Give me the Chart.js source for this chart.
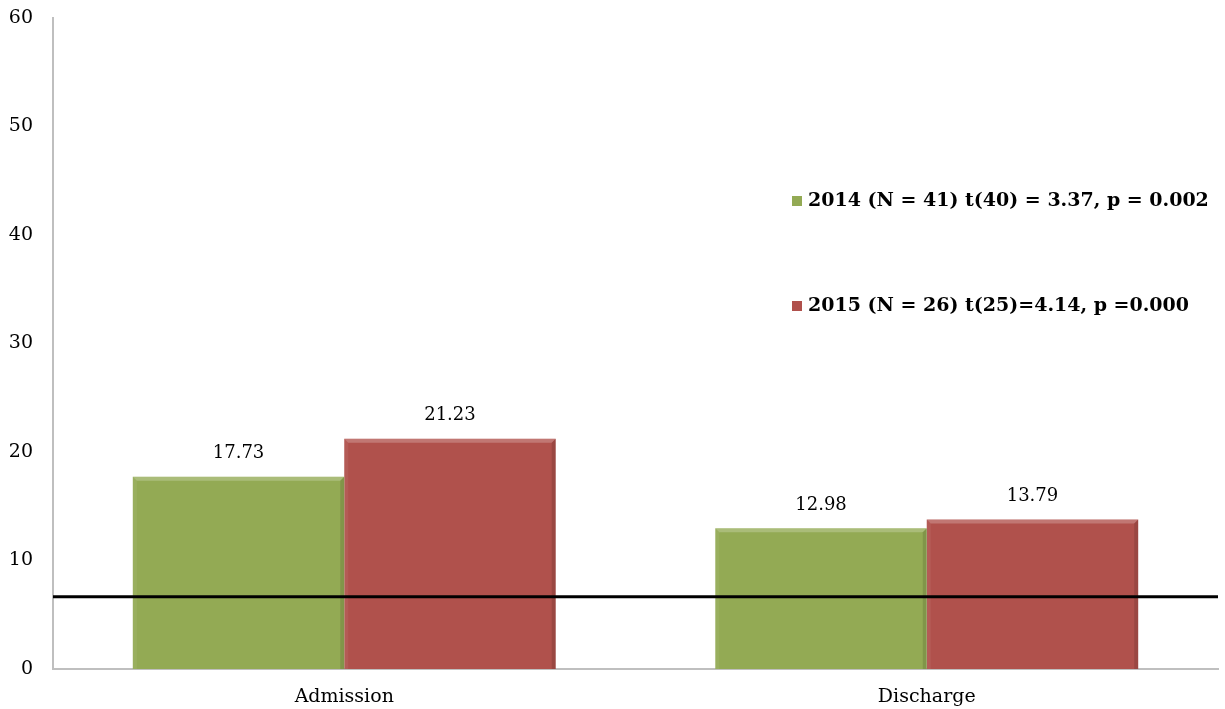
<!DOCTYPE html>
<html>
<head>
<meta charset="utf-8">
<script src="https://cdn.jsdelivr.net/npm/chart.js@4"></script>
<style>
  html, body { margin: 0; padding: 0; background: #fff; }
  #wrap { width: 1225px; height: 709px; }
</style>
</head>
<body>
<div id="wrap"><canvas id="scoreChart"></canvas></div>
<script>
const categories = ['Admission', 'Discharge'];
const seriesLabels = [
    '2014 (N = 41) t(40) = 3.37, p = 0.002',
    '2015 (N = 26) t(25)=4.14, p =0.000'
];
const values2014 = [17.73, 12.98];
const values2015 = [21.23, 13.79];
const cutoff = 6.65;
const yTicks = [0, 10, 20, 30, 40, 50, 60];

const FONT = 'DejaVu Serif';

// bevelled edges on each bar
const bevelPlugin = {
    id: 'bevel',
    afterDatasetsDraw(chart) {
        const ctx = chart.ctx;
        const b = 4;
        chart.data.datasets.forEach((ds, i) => {
            chart.getDatasetMeta(i).data.forEach(bar => {
                const l = bar.x - bar.width / 2, r = bar.x + bar.width / 2;
                const t = bar.y, bot = bar.base;
                ctx.save();
                ctx.fillStyle = 'rgba(255,255,255,0.22)';
                ctx.beginPath();
                ctx.moveTo(l, t); ctx.lineTo(r, t); ctx.lineTo(r - b, t + b); ctx.lineTo(l + b, t + b);
                ctx.fill();
                ctx.fillStyle = 'rgba(255,255,255,0.06)';
                ctx.beginPath();
                ctx.moveTo(l, t); ctx.lineTo(l + b, t + b); ctx.lineTo(l + b, bot); ctx.lineTo(l, bot);
                ctx.fill();
                ctx.fillStyle = 'rgba(0,0,0,0.12)';
                ctx.beginPath();
                ctx.moveTo(r, t); ctx.lineTo(r - b, t + b); ctx.lineTo(r - b, bot); ctx.lineTo(r, bot);
                ctx.fill();
                ctx.restore();
            });
        });
    }
};

// value labels, cutoff line and the legend inside the plot
const overlayPlugin = {
    id: 'overlay',
    afterDraw(chart) {
        const ctx = chart.ctx;
        const area = chart.chartArea;
        ctx.save();
        ctx.fillStyle = '#000';
        ctx.font = '18px "' + FONT + '"';
        ctx.textAlign = 'center';
        ctx.textBaseline = 'middle';
        chart.data.datasets.forEach((ds, i) => {
            chart.getDatasetMeta(i).data.forEach((bar, j) => {
                ctx.fillText(ds.data[j].toFixed(2), bar.x, bar.y - 23);
            });
        });

        const yc = chart.scales.y.getPixelForValue(cutoff);
        ctx.strokeStyle = '#000';
        ctx.lineWidth = 3;
        ctx.beginPath();
        ctx.moveTo(area.left, yc);
        ctx.lineTo(area.right, yc);
        ctx.stroke();

        ctx.textAlign = 'left';
        ctx.font = 'bold 19px "' + FONT + '"';
        const rows = [201, 306];
        chart.data.datasets.forEach((ds, i) => {
            const y = rows[i];
            ctx.fillStyle = ds.backgroundColor;
            ctx.fillRect(792, y - 5, 10, 10);
            ctx.fillStyle = '#000';
            ctx.fillText(ds.label, 808, y);
        });
        ctx.restore();
    }
};

new Chart(document.getElementById('scoreChart'), {
    type: 'bar',
    data: {
        labels: categories,
        datasets: [
            { label: seriesLabels[0], data: values2014, backgroundColor: 'rgb(147,170,84)' },
            { label: seriesLabels[1], data: values2015, backgroundColor: 'rgb(176,81,76)' }
        ]
    },
    options: {
        responsive: true,
        maintainAspectRatio: false,
        animation: false,
        layout: { padding: { top: 18, right: 7, left: 0, bottom: 0 } },
        datasets: {
            bar: { categoryPercentage: 0.726, barPercentage: 1.0 }
        },
        plugins: {
            legend: { display: false },
            tooltip: { enabled: false }
        },
        scales: {
            x: {
                grid: { display: false, drawTicks: false },
                border: { color: '#bfbfbf', width: 2 },
                ticks: { color: '#000', padding: 17, font: { family: FONT, size: 19 } },
                afterFit(scale) { scale.height = 40; scale.paddingLeft = 0; scale.paddingRight = 0; }
            },
            y: {
                min: 0,
                max: 60,
                afterBuildTicks(scale) { scale.ticks = yTicks.map(v => ({ value: v })); },
                grid: { display: false, drawTicks: false },
                border: { color: '#bfbfbf', width: 2 },
                ticks: { color: '#000', padding: 20, font: { family: FONT, size: 19 } },
                afterFit(scale) { scale.width = 53; scale.paddingTop = 0; scale.paddingBottom = 0; }
            }
        }
    },
    plugins: [bevelPlugin, overlayPlugin]
});
</script>
</body>
</html>
